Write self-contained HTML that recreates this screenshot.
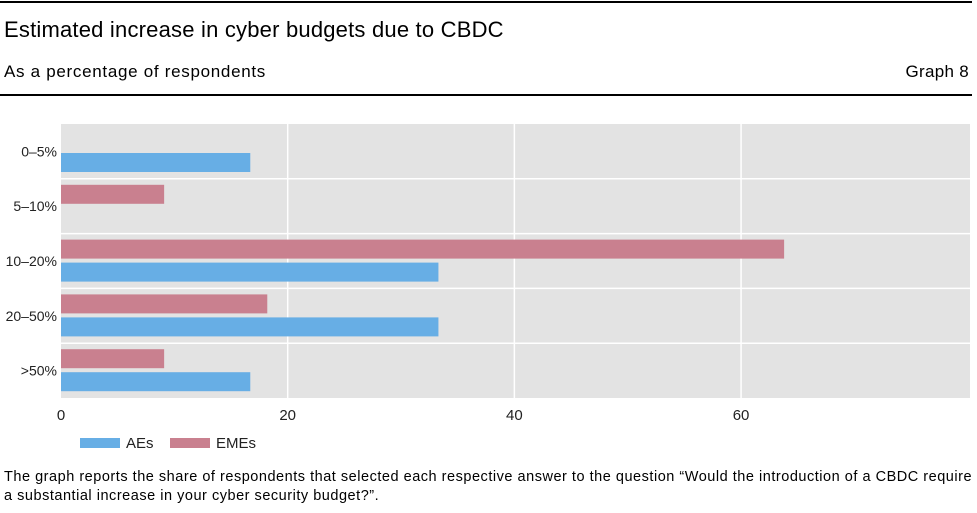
<!DOCTYPE html>
<html><head><meta charset="utf-8"><style>
body{margin:0;background:#fff;font-family:"Liberation Sans",sans-serif;}
#wrap{position:relative;width:977px;height:513px;overflow:hidden;}
.t{position:absolute;white-space:nowrap;color:#000;}
</style></head><body>
<div id="wrap">
<div style="position:absolute;left:0;top:1px;width:972px;height:2px;background:#000"></div>
<div class="t" style="left:4px;top:17px;font-size:22px;letter-spacing:0.2px">Estimated increase in cyber budgets due to CBDC</div>
<div class="t" style="left:4px;top:62px;font-size:17px;letter-spacing:0.7px">As a percentage of respondents</div>
<div class="t" style="right:8px;top:62px;font-size:17px;letter-spacing:0.3px">Graph 8</div>
<div style="position:absolute;left:0;top:94px;width:972px;height:2px;background:#000"></div>
<svg id="chart" width="977" height="513" style="position:absolute;left:0;top:0"></svg>
<div class="t" style="left:4px;top:468px;font-size:14.5px;line-height:19px;letter-spacing:0.52px">The graph reports the share of respondents that selected each respective answer to the question “Would the introduction of a CBDC require<br>a substantial increase in your cyber security budget?”.</div>
</div>
<script>
const categories=["0–5%","5–10%","10–20%","20–50%",">50%"];
const aesValues=[16.7,0,33.3,33.3,16.7];
const emesValues=[0,9.1,63.8,18.2,9.1];
const xTicks=[0,20,40,60];
const seriesNames=["AEs","EMEs"];
const NS="http://www.w3.org/2000/svg";
const svg=document.getElementById('chart');
const L=61,R=970,T=124,B=398,XMAX=80.2;
const x=v=>L+(R-L)*v/XMAX;
const band=(B-T)/categories.length;
const y=i=>T+i*band;
function mk(tag,a){const e=document.createElementNS(NS,tag);for(const k in a)e.setAttribute(k,a[k]);svg.appendChild(e);return e;}
let bg=mk('rect',{x:L,y:T,width:R-L,height:B-T,fill:'#e3e3e3'});


xTicks.forEach(t=>{if(t>0){let g=mk('line',{x1:x(t),x2:x(t),y1:T,y2:B,stroke:'#fff','stroke-width':1.5});

}
let tx=mk('text',{x:x(t),y:B+22,'font-size':15,'text-anchor':'middle',fill:'#222','font-family':'Liberation Sans'});tx.textContent=t;

});
categories.forEach((c,i)=>{if(i>0){let g=mk('line',{x1:L,x2:R,y1:y(i),y2:y(i),stroke:'#fff','stroke-width':1.5});

}
let tx=mk('text',{x:L-4,y:y(i)+band/2+5,'font-size':14,'text-anchor':'end',fill:'#222','font-family':'Liberation Sans'});tx.textContent=c;


if(emesValues[i]>0){let r=mk('rect',{x:L,y:y(i)+6,width:x(emesValues[i])-L,height:19,fill:'#c9808f'});

}
if(aesValues[i]>0){let r=mk('rect',{x:L,y:y(i)+29,width:x(aesValues[i])-L,height:19,fill:'#67aee5'});

}
});
const legCols=['#67aee5','#c9808f'],legX=[80,170];
seriesNames.forEach((n,i)=>{let r=mk('rect',{x:legX[i],y:438,width:40,height:10,fill:legCols[i]});


let tx=mk('text',{x:legX[i]+46,y:448,'font-size':15,fill:'#222','font-family':'Liberation Sans'});tx.textContent=n;

});
</script>
</body></html>
